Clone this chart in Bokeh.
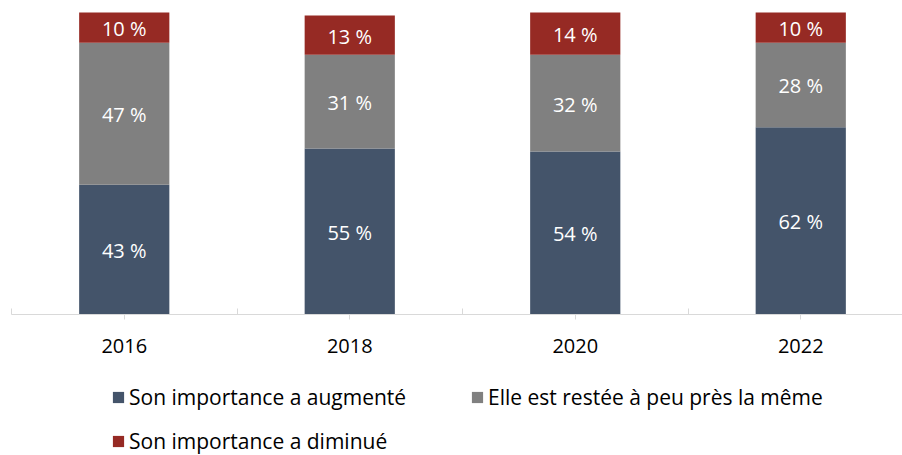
from bokeh.plotting import figure
from bokeh.models import (ColumnDataSource, FixedTicker, Legend, LegendItem,
                          LabelSet, Range1d)
from bokeh.core.properties import value
from bokeh.embed import file_html
from bokeh.resources import INLINE

# ---- data ----
years = ["2016", "2018", "2020", "2022"]
augmente = [43, 55, 54, 62]
meme = [47, 31, 32, 28]
diminue = [10, 13, 14, 10]
series_names = ["Son importance a augmenté",
                "Elle est restée à peu près la même",
                "Son importance a diminué"]
colors = ["#44546A", "#808080", "#962A24"]

FONT = "Open Sans"
FS = "20px"

x = list(range(len(years)))
keys = ["augmente", "meme", "diminue"]
src = ColumnDataSource(dict(x=x, augmente=augmente, meme=meme, diminue=diminue))

# layout geometry (pixels)
W, H = 902, 455
PX_PER_CAT = 225.5
X0_PX = 11           # left boundary of first category
BASE_PX = 314        # baseline (0 %)
TOP_PX = 12          # 100 %
ppu = (BASE_PX - TOP_PX) / 100.0

x_start = -0.5 - X0_PX / PX_PER_CAT
x_end = x_start + W / PX_PER_CAT
y_end = 100 + TOP_PX / ppu
y_start = -(H - BASE_PX) / ppu

p = figure(width=W, height=H,
           x_range=Range1d(x_start, x_end),
           y_range=Range1d(y_start, y_end),
           output_backend="svg", toolbar_location=None,
           min_border_left=0, min_border_right=0, min_border_top=0,
           min_border_bottom=0, y_axis_location=None)

rs = p.vbar_stack(keys, x="x", width=0.4, color=colors, source=src,
                  line_color=None)

# value labels
lab_x, lab_y, lab_t = [], [], []
for i in x:
    base = 0
    for vals in (augmente, meme, diminue):
        v = vals[i]
        lab_x.append(i)
        lab_y.append(base + v / 2)
        lab_t.append(f"{v} %")
        base += v
lsrc = ColumnDataSource(dict(x=lab_x, y=lab_y, t=lab_t))
p.add_layout(LabelSet(x="x", y="y", text="t", source=lsrc,
                      text_color="white", text_font=value(FONT),
                      text_font_size=FS, y_offset=-1,
                      text_align="center", text_baseline="middle"))

# axes
p.xgrid.visible = False
p.ygrid.visible = False
p.outline_line_color = None
ax = p.xaxis[0]
ax.fixed_location = 0
ax.bounds = (-0.5, x_end)
ax.ticker = FixedTicker(ticks=x, minor_ticks=[i - 0.5 for i in x] + [len(x) - 0.5])
ax.major_label_overrides = {i: y for i, y in zip(x, years)}
ax.axis_line_color = "#D9D9D9"
ax.major_tick_line_color = "#D9D9D9"
ax.minor_tick_line_color = "#D9D9D9"
ax.major_tick_in = 0
ax.major_tick_out = 5
ax.minor_tick_in = 6
ax.minor_tick_out = 0
ax.major_label_text_font = FONT
ax.major_label_text_font_size = FS
ax.major_label_text_color = "#000000"
ax.major_label_standoff = 19

# legends: one per item, positioned individually (screen px from frame bottom-left)
positions = [(111, 44), (470, 44), (111, 0)]
for r, name, loc in zip(rs, series_names, positions):
    lg = Legend(items=[LegendItem(label=name, renderers=[r])], location=loc,
                padding=0, margin=0, border_line_color=None,
                background_fill_alpha=0, glyph_width=14, glyph_height=14,
                label_standoff=4, label_text_font=FONT,
                label_text_font_size="21px", label_text_color="#000000",
                label_height=24)
    p.add_layout(lg, "center")

open("out.html", "w").write(file_html(p, INLINE))
